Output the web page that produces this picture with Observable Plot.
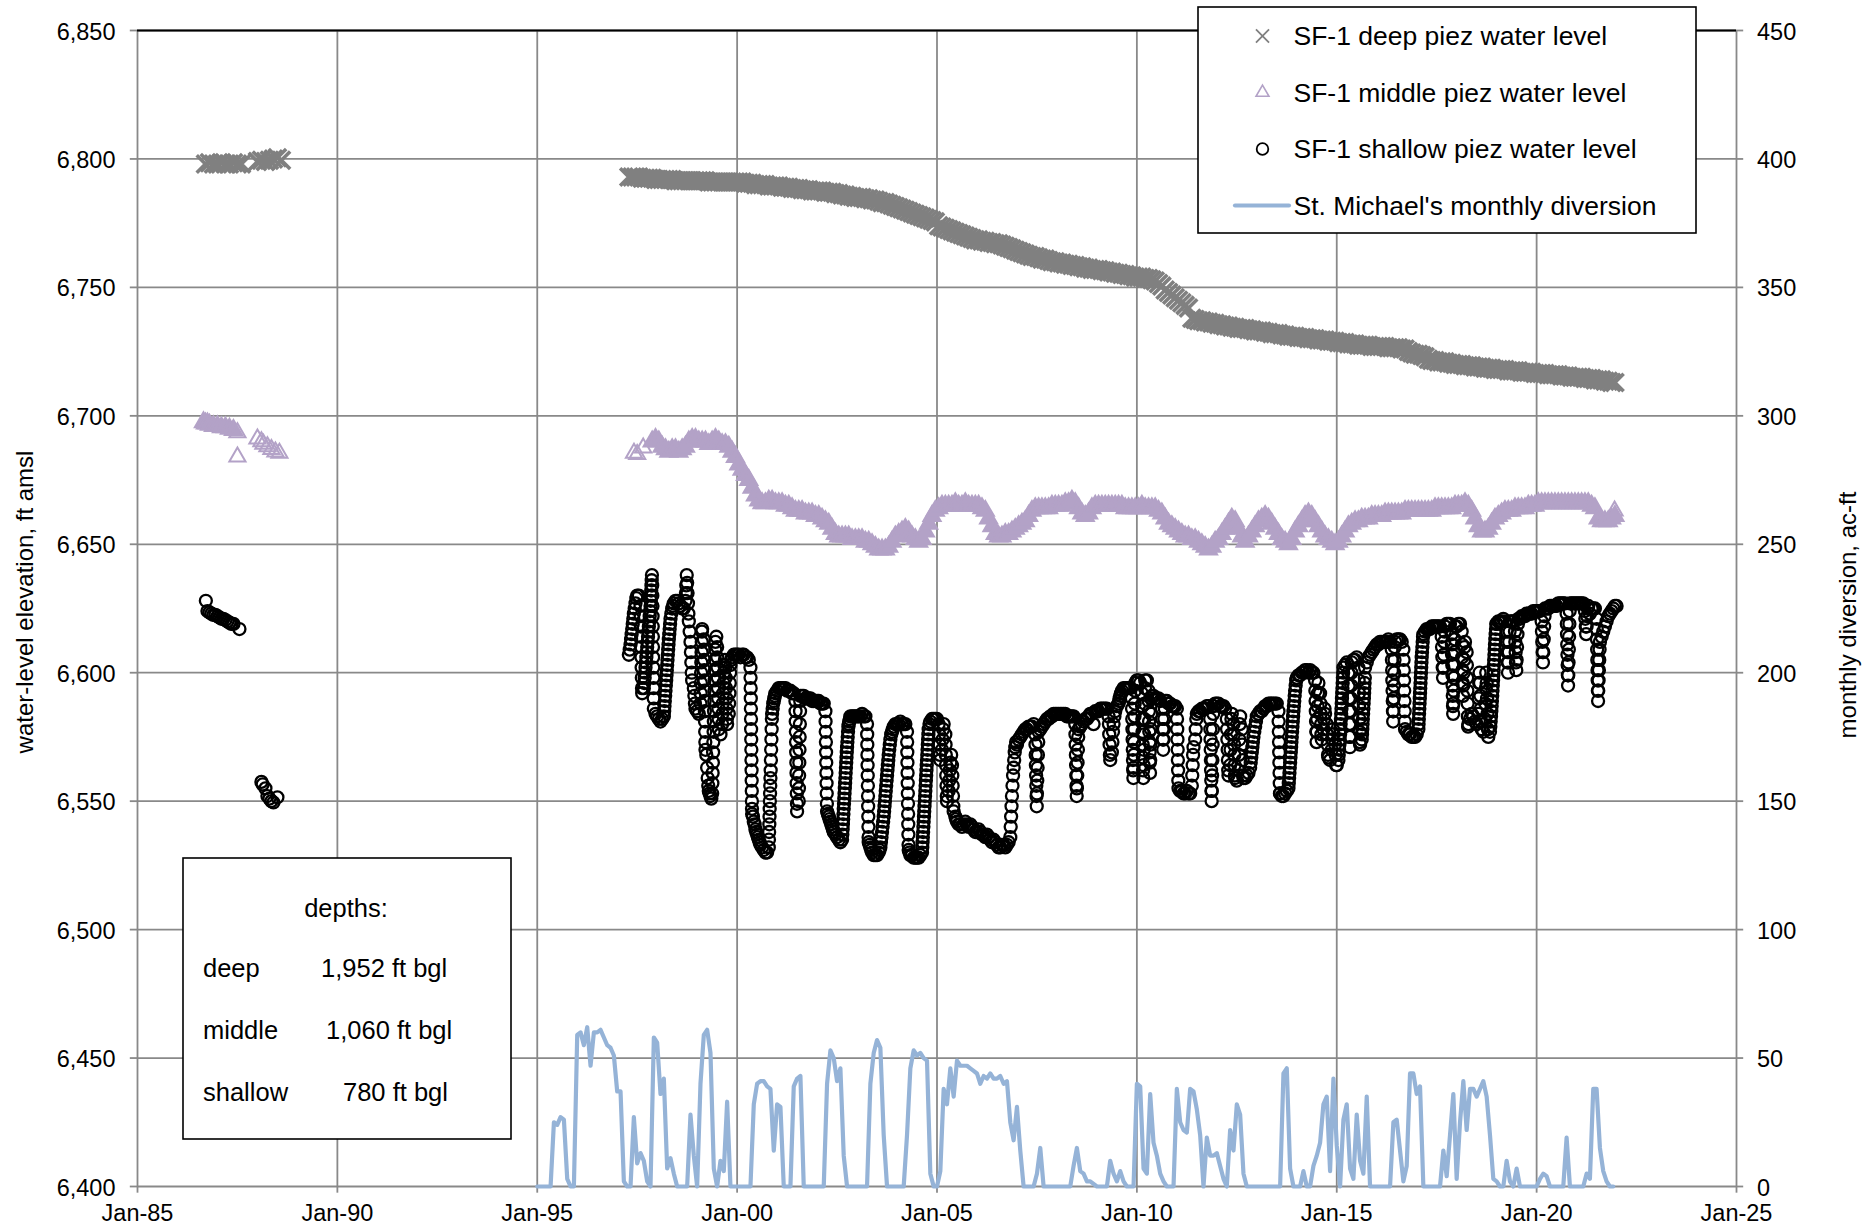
<!DOCTYPE html>
<html><head><meta charset="utf-8">
<script src="https://cdn.jsdelivr.net/npm/d3@7"></script>
<script src="https://cdn.jsdelivr.net/npm/@observablehq/plot@0.6"></script>
<style>html,body{margin:0;padding:0;background:#fff;overflow:hidden;}</style>
</head><body><div id="chart"></div>
<script>
// ---------- axis ticks ----------
const xTicks = [1985, 1990, 1995, 2000, 2005, 2010, 2015, 2020, 2025];
const xTickLabels = ["Jan-85","Jan-90","Jan-95","Jan-00","Jan-05","Jan-10","Jan-15","Jan-20","Jan-25"];
const yTicks = [6400, 6450, 6500, 6550, 6600, 6650, 6700, 6750, 6800, 6850];
const y2Ticks = [0, 50, 100, 150, 200, 250, 300, 350, 400, 450];

// ---------- legend / depth box text ----------
const seriesNames = ["SF-1 deep piez water level", "SF-1 middle piez water level", "SF-1 shallow piez water level", "St. Michael's monthly diversion"];
const depthRows = [["deep", "1,952 ft bgl"], ["middle", "1,060 ft bgl"], ["shallow", "780 ft bgl"]];

// ---------- early / isolated readings [decimal year, ft amsl] ----------
const deepEarly = [[1986.7,6798],[1986.8,6798.5],[1986.9,6798],[1987.0,6798],[1987.1,6798.5],[1987.2,6798],[1987.3,6798],[1987.4,6798.5],[1987.5,6798],[1987.6,6798],[1988.0,6799],[1988.1,6799.5],[1988.2,6799],[1988.3,6799.5],[1988.4,6800],[1988.5,6800.5],[1988.6,6799.5]];
const middleEarly = [[1986.65,6697.5],[1986.7,6697],[1986.75,6697],[1986.8,6696.5],[1986.9,6696],[1987.0,6696],[1987.1,6695.5],[1987.2,6695.5],[1987.3,6695],[1987.4,6694.5]];
const middleSparse = [[1987.5,6693.5],[1987.5,6684],[1988.0,6691],[1988.1,6690],[1988.15,6689],[1988.25,6688],[1988.35,6687],[1988.45,6686],[1988.55,6685.5],[1997.42,6685.5],[1997.5,6685],[1997.65,6687.5],[2021.95,6663]];
const shallowEarly = [[1986.71,6628],[1986.75,6624],[1986.8,6623.5],[1986.85,6623],[1986.9,6622.5],[1986.95,6622.5],[1987.0,6622],[1987.05,6621.5],[1987.1,6621],[1987.15,6621],[1987.2,6620.5],[1987.25,6620],[1987.3,6619.5],[1987.35,6619],[1987.4,6619],[1987.55,6617],[1988.1,6557.5],[1988.13,6556.5],[1988.2,6555],[1988.25,6552],[1988.3,6551],[1988.35,6550],[1988.4,6549.5],[1988.5,6551.5]];

// ---------- deep piezometer, monthly (Jan..Dec) ----------
const deep1997 = [null,null,null,6793,6793,6793,6793,6792.5,6792.5,6792.5,6792.5,6792];
const deep1998 = [6792,6792,6792,6792,6792,6791.5,6791.5,6791.5,6791.5,6791.5,6791.5,6791.5];
const deep1999 = [6791.5,6791.5,6791.5,6791,6791,6791,6791,6791,6791,6791,6791,6791];
const deep2000 = [6791,6791,6790.5,6790.5,6790.5,6790,6790,6790,6790,6789.5,6789.5,6789.5];
const deep2001 = [6789.5,6789,6789,6789,6788.5,6788.5,6788.5,6788,6788,6788,6787.5,6787.5];
const deep2002 = [6787.5,6787.5,6787,6787,6787,6786.5,6786.5,6786,6786,6785.5,6785.5,6785];
const deep2003 = [6785,6785,6784.5,6784.5,6784,6784,6783.5,6783,6783,6782.5,6782,6781.5];
const deep2004 = [6781,6780.5,6780,6779.5,6779,6778.5,6778,6777.5,6777,6776.5,6776,6775.5];
const deep2005 = [6774,6773.5,6773,6772.5,6772,6771.5,6771,6770.5,6770,6769.5,6769,6768.5];
const deep2006 = [6768.5,6768,6768,6767.5,6767.5,6767,6767,6766.5,6766,6765.5,6765,6764.5];
const deep2007 = [6764,6763.5,6763,6762.5,6762,6762,6761.5,6761,6761,6760.5,6760,6760];
const deep2008 = [6759.5,6759.5,6759,6759,6758.5,6758.5,6758,6758,6757.5,6757.5,6757,6757];
const deep2009 = [6757,6756.5,6756.5,6756,6756,6755.5,6755.5,6755,6755,6754.5,6754.5,6754];
const deep2010 = [6754,6754,6753.5,6753.5,6753,6752.5,6751.5,6750.5,6749,6748,6747,6746];
const deep2011 = [6745,6744,6743,6742,6738,6737.5,6737,6737,6736.5,6736.5,6736,6736];
const deep2012 = [6735.5,6735.5,6735,6735,6734.5,6734.5,6734,6734,6734,6733.5,6733.5,6733];
const deep2013 = [6733,6733,6732.5,6732.5,6732,6732,6732,6731.5,6731.5,6731,6731,6731];
const deep2014 = [6730.5,6730.5,6730.5,6730,6730,6730,6729.5,6729.5,6729.5,6729,6729,6729];
const deep2015 = [6728.5,6728.5,6728.5,6728,6728,6728,6727.5,6727.5,6727.5,6727.5,6727,6727];
const deep2016 = [6727,6727,6727,6726.5,6726.5,6726.5,6726.5,6726,6726,6725,6724.5,6724];
const deep2017 = [6724,6723.5,6723,6722,6721.5,6721.5,6721,6721,6721,6720.5,6720.5,6720];
const deep2018 = [6720,6720,6719.5,6719.5,6719.5,6719,6719,6719,6718.5,6718.5,6718.5,6718];
const deep2019 = [6718,6718,6718,6717.5,6717.5,6717.5,6717.5,6717,6717,6717,6717,6716.5];
const deep2020 = [6716.5,6716.5,6716.5,6716,6716,6716,6716,6715.5,6715.5,6715.5,6715,6715];
const deep2021 = [6715,6715,6714.5,6714.5,6714.5,6714,6714,6714,6713.5,6713.5,6713,6713];

// ---------- middle piezometer, monthly ----------
const mid1997 = [null,null,null,null,null,null,null,null,null,null,6690,6691];
const mid1998 = [6690,6688,6687,6686,6687,6687,6686,6687,6688,6690,6691,6691];
const mid1999 = [6690,6690,6690,6689,6690,6691,6690,6689,6689,6688,6686,6684];
const mid2000 = [6681,6679,6677,6675,6672,6669,6667,6666,6666,6667,6667,6666];
const mid2001 = [6666,6666,6665,6665,6664,6663,6663,6663,6662,6662,6662,6661];
const mid2002 = [6661,6660,6659,6658,6656,6654,6653,6653,6653,6653,6652,6652];
const mid2003 = [6652,6652,6651,6651,6650,6649,6648,6648,6648,6649,6651,6653];
const mid2004 = [6654,6655,6656,6655,6653,6652,6651,6652,6655,6658,6661,6663];
const mid2005 = [6664,6665,6665,6665,6665,6666,6665,6665,6666,6665,6665,6665];
const mid2006 = [6665,6664,6663,6660,6657,6654,6653,6653,6654,6654,6655,6656];
const mid2007 = [6657,6658,6659,6661,6663,6664,6664,6664,6664,6664,6665,6665];
const mid2008 = [6665,6665,6666,6666,6667,6666,6664,6662,6661,6662,6664,6665];
const mid2009 = [6665,6665,6665,6665,6665,6665,6665,6665,6664,6664,6664,6664];
const mid2010 = [6664,6665,6664,6664,6664,6664,6663,6662,6660,6658,6657,6656];
const mid2011 = [6655,6654,6653,6653,6652,6652,6651,6650,6649,6648,6649,6651];
const mid2012 = [6652,6654,6656,6658,6660,6659,6656,6653,6651,6653,6655,6657];
const mid2013 = [6659,6660,6661,6660,6658,6656,6654,6652,6651,6650,6652,6655];
const mid2014 = [6657,6659,6661,6662,6661,6659,6657,6655,6653,6652,6651,6650];
const mid2015 = [6651,6653,6655,6657,6658,6659,6659,6660,6660,6660,6661,6661];
const mid2016 = [6661,6661,6662,6662,6662,6662,6662,6662,6663,6663,6663,6663];
const mid2017 = [6663,6663,6663,6663,6663,6664,6664,6664,6664,6664,6664,6665];
const mid2018 = [6665,6665,6666,6665,6663,6660,6657,6655,6655,6656,6658,6660];
const mid2019 = [6661,6662,6663,6663,6663,6664,6664,6664,6664,6665,6665,6665];
const mid2020 = [6666,6666,6666,6666,6666,6666,6666,6666,6666,6666,6666,6666];
const mid2021 = [6666,6666,6666,6666,6665,6664,6660,6659,6659,6659,6660,6661];

// ---------- shallow piezometer, half-month slots (arrays = several readings in that slot) ----------
const shallow1997 = [null,null,null,null,null,null,null,[6607,6609],[6611,6613,6615],[6617,6619,6621],[6623,6625],[6627,6629],6630,6630,[6626,6622,6618,6614,6610,6606,6602,6598,6594],6592,[6594,6596,6598,6600],[6602,6604,6606,6608],[6610,6612,6614,6616],[6618,6620,6622,6624],[6626,6628,6630,6632,6634,6636,6638],[6634,6630,6626,6622,6618,6614,6610,6606,6602,6598,6594,6590],6586,6584];
const shallow1998 = [6583,6582,6581,6582,[6583,6585,6587,6589,6591],[6593,6595,6597,6599,6601],[6603,6605,6607,6609,6611],[6613,6615,6617,6619],[6621,6623],[6625,6626],6627,6628,6628,6627,6626,6625,6625,[6628,6631,6634,6638],[6635,6631,6627,6623],[6620,6616],[6612,6608,6604,6600],6597,[6594,6591,6588],6586];
const shallow1999 = [6585,6584,[6588,6592,6596,6600,6604,6608,6612,6616],6617,[6613,6609,6605,6601,6597,6593,6589,6585,6581,6577,6573],[6570,6568],[6563,6559,6556],[6554,6553],[6552,6551],[6553,6557,6561,6565,6569,6573,6577],[6581,6585,6589,6593,6597,6601,6605,6609],[6612,6614],[6610,6606,6602,6598,6594,6590,6586,6582],6578,6576,[6580,6584,6588,6592,6596],[6600,6603,6605],[6602,6598,6594,6590,6586,6582],6580,[6584,6588,6592,6596,6600],[6603,6605],6606,6607,6607];
const shallow2000 = [6607,6607,6606,6607,6607,6606,6606,6605,[6602,6598,6594,6590,6586,6582,6578,6574,6570,6566,6562,6558,6554,6550,6547],[6545,6544],[6542,6541],[6539,6538],[6537,6536],[6535,6534],6533,6532,6531,6530,6530,[6532,6535,6538,6541,6544,6547,6550,6553,6556],[6559,6562,6566,6570,6574,6578,6582],[6584,6586,6588],[6589,6590,6591],6592];
const shallow2001 = [6593,6594,6594,6594,6594,6594,6593,6593,6593,6592,6592,[6589,6585,6581,6577,6573,6569,6565,6561,6557,6553,6549],6546,[6550,6555,6560,6565,6570,6575,6580,6585,6589],6591,6591,6591,6590,6590,6590,6590,6589,6589,6589];
const shallow2002 = [6589,6589,6588,6588,6588,[6585,6581,6577,6573,6569,6565,6561,6557,6553,6549],[6546,6545],[6544,6543],[6542,6541],[6540,6539],6538,6537,6536,6535,6534,[6535,6537,6539,6541,6543,6545],[6547,6549,6551,6553,6555,6557],[6559,6561,6563,6565,6567,6569],[6571,6573,6575,6577,6579],[6580,6581,6582],6583,6583,6583,6583];
const shallow2003 = [6583,6583,6583,6584,6583,6583,[6580,6576,6572,6568,6564,6560,6556,6552,6548,6544,6540,6536],[6534,6533],[6532,6531],6530,6529,6529,6529,[6530,6531],[6532,6534,6536],[6538,6540,6542],[6544,6546,6548,6550],[6552,6554,6556,6558],[6560,6562,6564,6566],[6568,6570,6572],[6574,6576],[6577,6578],6579,6580];
const shallow2004 = [6580,6580,6581,6580,6580,6580,[6577,6573,6569,6565,6561,6557,6553,6549,6545,6541,6537,6533],[6531,6530],6529,6529,6528,6528,6528,6528,6529,[6530,6532,6534,6536,6538,6540],[6542,6544,6546,6548,6550,6552],[6554,6556,6558,6560,6562,6564],[6566,6568,6570,6572,6574,6576],[6578,6580],6581,6582,6582,6582];
const shallow2005 = [6582,[6580,6576,6572,6568],6566,[6570,6574,6578],6580,[6576,6572,6568,6564,6560,6556,6552],6550,[6554,6558,6562],[6565,6568],[6564,6560,6556,6552,6548],6546,[6544,6543],6542,6541,6541,6540,6541,6542,6541,6540,6541,6540,6539,6538];
const shallow2006 = [6538,6539,6538,6537,6537,6536,6537,6536,6535,6534,6535,6534,6533,6532,6532,6533,6533,6532,6533,6534,[6536,6540,6544,6548],[6552,6556,6560],[6563,6566,6569],[6571,6573]];
const shallow2007 = [6572,6574,6575,6576,6577,6578,6578,6579,6579,6579,6580,[6576,6572,6568,6564,6560,6556,6552,6548],[6553,6558,6563,6568,6573],6577,6578,6579,6580,6581,6582,6582,6583,6583,6584,6584];
const shallow2008 = [6584,6584,6584,6584,6584,6584,6583,6583,6583,6583,6583,[6580,6576,6572,6568,6564,6560,6556,6552],[6555,6560,6565,6570,6575],6578,6579,6580,6581,6582,6582,6583,6584,6584,6580,6585];
const shallow2009 = [6585,6585,6586,6586,6586,6586,6586,[6583,6580,6576,6572,6568],6566,[6569,6573,6577],[6580,6583],6585,6587,[6588,6589,6590],[6591,6592],6593,6594,6594,6594,6594,6594,[6590,6586,6582,6578,6574,6570,6566,6562,6559],[6563,6568,6573,6578,6583,6588,6593],6596];
const shallow2010 = [6597,6597,6596,[6592,6587,6582,6577,6572,6567,6562,6559],[6564,6570,6576,6582,6588,6594],6597,6597,[6593,6589,6585,6581,6577,6573,6569,6565,6561],[6566,6572,6578,6584,6590],6591,6591,6590,6590,6590,6589,[6586,6582,6578,6574,6570],[6574,6578,6582,6586],6589,6589,6588,6588,6587,6587,6587];
const shallow2011 = [[6586,6582,6578,6574,6570,6566,6562,6558],6555,6554,6554,6553,6553,6554,6553,6553,[6556,6560,6564,6568],6571,[6574,6578,6582],6584,6585,6585,6586,6586,6586,6587,6587,[6582,6578,6574,6570,6566,6562,6558,6554,6550],[6554,6560,6566,6572,6578,6584],6587,6588];
const shallow2012 = [6588,6588,6587,6587,6587,6586,[6582,6578,6574,6570,6566,6562],6560,[6564,6570,6576,6582],6584,[6580,6576,6572,6568,6564,6560],6559,6558,[6562,6568,6574,6580],6583,[6578,6572,6566,6560],6559,6559,6560,6561,[6563,6565,6567],[6569,6571,6573],[6575,6577],[6579,6581]];
const shallow2013 = [6583,6584,6585,6585,6586,6587,6587,6588,6588,6588,6588,6588,6588,[6585,6581,6577,6573,6569,6565,6561,6557,6553],6553,6552,6552,6553,6554,[6555,6557,6559,6561,6563],[6565,6567,6569,6571,6573],[6575,6577,6579,6581,6583],[6585,6587,6589,6591],[6593,6595,6597]];
const shallow2014 = [6598,6599,6599,6600,6600,6601,6601,6600,6601,6600,6600,[6597,6593,6589,6585,6581,6577,6573],[6577,6582,6587,6592],6596,[6592,6588,6584,6580,6576],6574,[6578,6582,6586],6584,[6580,6576,6572,6568],6567,6566,[6570,6574,6578],6576,[6572,6568,6564]];
const shallow2015 = [6564,[6566,6568,6570,6572,6574],[6576,6578,6580,6582,6584,6586],[6588,6590,6592,6594,6596,6598,6600],6602,6603,6604,[6600,6595,6590,6585,6580,6575,6571],[6575,6580,6585,6590,6595,6600],6604,6605,6605,6606,[6602,6597,6592,6587,6582,6577,6573],6572,[6574,6576,6578,6580,6582,6584],[6586,6588,6590,6592,6594,6596,6598],6602,6604,6606,6607,6608,6609,6610];
const shallow2016 = [6611,6611,6612,6612,6612,6612,6612,6613,6612,[6609,6605,6601,6597,6593,6589,6585,6581],[6585,6590,6595,6600,6605,6610],6612,6613,6613,6613,6612,[6609,6605,6601,6597,6593,6589,6585,6581],6578,6577,6576,6576,6575,6575,6575];
const shallow2017 = [6576,[6578,6580,6582,6584,6586,6588,6590],[6592,6594,6596,6598,6600,6602,6604],[6606,6608,6610,6612,6614],6615,6616,6617,6617,6617,6618,6618,6618,6618,6618,6618,[6614,6610,6606,6602,6598],[6602,6607,6612,6616],6618,6619,6619,6619,[6615,6611,6607,6603,6599,6595,6591,6587,6584],[6588,6593,6598,6603,6608,6613],6618];
const shallow2018 = [6618,6619,6619,[6616,6611,6606,6601,6596,6591],[6595,6600,6605,6610],6612,[6608,6603,6598,6593,6588,6583,6579],6580,6582,6584,6583,6581,6580,[6584,6590,6596,6600],[6596,6591,6586,6581],6578,6577,[6582,6588,6594,6600],[6596,6590,6584,6578],6575,[6577,6579,6581,6583,6585],[6587,6589,6591,6593,6595,6597],[6599,6601,6603,6605,6607,6609],[6611,6613,6615,6617,6619]];
const shallow2019 = [6619,6620,6620,6620,6621,6620,[6616,6612,6608,6604,6600],[6604,6608,6612,6616],6620,6620,6620,[6616,6612,6608,6604,6601],[6605,6610,6615,6619],6621,6621,6622,6622,6622,6623,6623,6623,6623,6624,6624];
const shallow2020 = [6624,6624,6624,[6620,6616,6612,6608,6604],[6608,6613,6618,6622],6625,6625,6625,6626,6626,6626,6626,6626,6627,6627,6627,6627,6627,[6623,6619,6615,6611,6607,6603,6599,6595],[6599,6604,6609,6614,6619,6624],6627,6627,6627,6627];
const shallow2021 = [6627,6627,6627,6627,6627,[6624,6621,6618,6615],[6618,6622,6625],6626,6623,6625,6625,6625,[6621,6617,6613,6609,6605,6601,6597,6593,6589],[6593,6597,6601,6605,6609],6612,6614,6616,6618,6620,6622,6623,6624,6625,6626];
const shallow2022 = [6626];

// ---------- St. Michael's monthly diversion, ac-ft (Jan..Dec) ----------
const div1995 = [0,0,0,0,0,25,24,27,26,3,0,0];
const div1996 = [59,60,55,62,47,60,60,61,58,55,54,51];
const div1997 = [37,37,2,0,0,27,9,13,10,2,0,58];
const div1998 = [56,36,42,7,11,5,0,0,0,0,28,12];
const div1999 = [0,40,59,61,52,7,0,10,6,33,0,0];
const div2000 = [0,0,0,0,0,32,40,41,41,39,38,14];
const div2001 = [32,31,0,0,0,39,42,43,0,0,0,0];
const div2002 = [0,0,0,40,53,50,41,46,12,0,0,0];
const div2003 = [0,0,0,0,40,52,57,54,20,0,0,0];
const div2004 = [0,0,0,20,46,53,51,52,50,49,5,0];
const div2005 = [0,6,38,32,46,35,49,47,47,47,46,45];
const div2006 = [44,40,43,42,44,42,42,43,40,41,25,18];
const div2007 = [31,14,0,0,0,0,5,15,0,0,0,0];
const div2008 = [0,0,0,0,0,8,15,6,5,2,2,1];
const div2009 = [0,0,0,0,10,5,2,6,2,0,0,0];
const div2010 = [40,39,7,5,36,17,12,5,2,0,0,0];
const div2011 = [38,25,22,21,38,37,30,20,0,19,12,12];
const div2012 = [13,8,3,0,22,14,32,28,5,0,0,0];
const div2013 = [0,0,0,0,0,0,0,0,44,46,7,0];
const div2014 = [0,0,6,0,0,8,12,17,32,35,6,42];
const div2015 = [16,0,26,32,7,3,28,10,5,35,0,0];
const div2016 = [0,0,0,0,0,25,26,14,2,8,44,44];
const div2017 = [36,39,0,0,0,0,0,0,14,4,20,36];
const div2018 = [3,25,41,22,38,38,35,38,41,35,20,3];
const div2019 = [2,0,0,10,2,0,7,0,0,0,0,0];
const div2020 = [0,3,5,4,0,0,0,0,0,19,0,0];
const div2021 = [0,0,0,5,3,38,38,15,6,2,0,0];

// ---------- assemble tables ----------
const deepYears = [[1997,deep1997],[1998,deep1998],[1999,deep1999],[2000,deep2000],[2001,deep2001],[2002,deep2002],[2003,deep2003],[2004,deep2004],[2005,deep2005],[2006,deep2006],[2007,deep2007],[2008,deep2008],[2009,deep2009],[2010,deep2010],[2011,deep2011],[2012,deep2012],[2013,deep2013],[2014,deep2014],[2015,deep2015],[2016,deep2016],[2017,deep2017],[2018,deep2018],[2019,deep2019],[2020,deep2020],[2021,deep2021]];
const midYears = [[1997,mid1997],[1998,mid1998],[1999,mid1999],[2000,mid2000],[2001,mid2001],[2002,mid2002],[2003,mid2003],[2004,mid2004],[2005,mid2005],[2006,mid2006],[2007,mid2007],[2008,mid2008],[2009,mid2009],[2010,mid2010],[2011,mid2011],[2012,mid2012],[2013,mid2013],[2014,mid2014],[2015,mid2015],[2016,mid2016],[2017,mid2017],[2018,mid2018],[2019,mid2019],[2020,mid2020],[2021,mid2021]];
const shallowYears = [[1997,shallow1997],[1998,shallow1998],[1999,shallow1999],[2000,shallow2000],[2001,shallow2001],[2002,shallow2002],[2003,shallow2003],[2004,shallow2004],[2005,shallow2005],[2006,shallow2006],[2007,shallow2007],[2008,shallow2008],[2009,shallow2009],[2010,shallow2010],[2011,shallow2011],[2012,shallow2012],[2013,shallow2013],[2014,shallow2014],[2015,shallow2015],[2016,shallow2016],[2017,shallow2017],[2018,shallow2018],[2019,shallow2019],[2020,shallow2020],[2021,shallow2021],[2022,shallow2022]];
const divYears = [[1995,div1995],[1996,div1996],[1997,div1997],[1998,div1998],[1999,div1999],[2000,div2000],[2001,div2001],[2002,div2002],[2003,div2003],[2004,div2004],[2005,div2005],[2006,div2006],[2007,div2007],[2008,div2008],[2009,div2009],[2010,div2010],[2011,div2011],[2012,div2012],[2013,div2013],[2014,div2014],[2015,div2015],[2016,div2016],[2017,div2017],[2018,div2018],[2019,div2019],[2020,div2020],[2021,div2021]];

function monthlyTable(years, early) {
  const out = early.map(([t, v]) => ({t, v}));
  for (const [Y, arr] of years) arr.forEach((v, i) => { if (v != null) out.push({t: Y + (i + 0.5) / 12, v}); });
  return out;
}
const deepData = monthlyTable(deepYears, deepEarly);
const midData = monthlyTable(midYears, middleEarly);
const midSparseData = middleSparse.map(([t, v]) => ({t, v}));
const shallowData = shallowEarly.map(([t, v]) => ({t, v}));
for (const [Y, arr] of shallowYears) arr.forEach((e, i) => {
  if (e == null) return;
  const vals = Array.isArray(e) ? e : [e];
  vals.forEach((v, k) => shallowData.push({t: Y + (i + k / vals.length) / 24, v}));
});
const divData = [];
for (const [Y, arr] of divYears) arr.forEach((v, i) => divData.push({t: Y + i / 12, v}));

// ---------- plot ----------
const GRID = "#898989";
const LAV = "#b3a2c7";
const FONT = "'Liberation Sans', Arial, Helvetica, sans-serif";
const fmtComma = d3.format(",");
const base = 6400; // right axis 0 sits on left axis 6,400 (both span 450)

const chart = Plot.plot({
  width: 1865, height: 1228,
  marginLeft: 137, marginRight: 129, marginTop: 30, marginBottom: 42,
  style: {fontFamily: FONT, background: "white", color: "black"},
  x: {domain: [1985, 2025], axis: null},
  y: {domain: [6400, 6850], axis: null},
  marks: [
    Plot.ruleX(xTicks, {stroke: GRID, strokeWidth: 1.8}),
    Plot.ruleY(yTicks, {stroke: GRID, strokeWidth: 1.8}),
    Plot.ruleY([6850], {stroke: "black", strokeWidth: 2.2}),
    Plot.ruleY(yTicks, {x1: 1985 - 0.18, x2: 1985, stroke: GRID, strokeWidth: 1.8}),
    Plot.ruleY(yTicks, {x1: 2025, x2: 2025 + 0.18, stroke: GRID, strokeWidth: 1.8}),
    Plot.ruleX(xTicks, {y1: 6400, y2: 6400 - 2.6, stroke: GRID, strokeWidth: 1.8}),
    Plot.text(yTicks, {x: 1985, y: d => d, text: d => fmtComma(d), dx: -22, dy: 1.5, textAnchor: "end", fontSize: 23.5, fill: "black"}),
    Plot.text(y2Ticks, {x: 2025, y: d => base + d, text: d => String(d), dx: 20.5, dy: 1.5, textAnchor: "start", fontSize: 23.5, fill: "black"}),
    Plot.text(xTicks, {x: d => d, y: 6400, text: (d, i) => xTickLabels[i], dy: 27, fontSize: 23.5, fill: "black"}),
    Plot.line(divData, {x: "t", y: d => base + d.v, stroke: "#95b3d7", strokeWidth: 4.2, strokeLinejoin: "round", strokeLinecap: "round"}),
    Plot.dot(deepData, {x: "t", y: "v", symbol: d3.symbolTimes, r: 8, stroke: "#808080", fill: "none", strokeWidth: 3.6}),
    Plot.dot(midData, {x: "t", y: "v", symbol: d3.symbolTriangle, r: 6.4, stroke: LAV, fill: LAV, strokeWidth: 2}),
    Plot.dot(midSparseData, {x: "t", y: "v", symbol: d3.symbolTriangle, r: 6, stroke: LAV, fill: "none", strokeWidth: 2}),
    // shallow: white faces first, then all outlines on top (dense readings merge into solid black)
    Plot.dot(shallowData, {x: "t", y: "v", r: 6, fill: "white", stroke: "none"}),
    Plot.dot(shallowData, {x: "t", y: "v", r: 6, stroke: "black", fill: "none", strokeWidth: 2.3})
  ]
});
document.getElementById("chart").appendChild(chart);

// ---------- overlays: axis titles, legend, depth box ----------
const svg = d3.select(chart);
const g = svg.append("g").attr("font-family", FONT).attr("fill", "black").attr("text-anchor", "start");
g.append("text").attr("transform", "translate(25,602) rotate(-90)").attr("text-anchor", "middle")
  .attr("dy", "0.35em").attr("font-size", 24).text("water-level elevation, ft amsl");
g.append("text").attr("transform", "translate(1848,615) rotate(-90)").attr("text-anchor", "middle")
  .attr("dy", "0.35em").attr("font-size", 24).text("monthly diversion, ac-ft");

// legend
const lg = g.append("g");
lg.append("rect").attr("x", 1198).attr("y", 7).attr("width", 498).attr("height", 226)
  .attr("fill", "white").attr("stroke", "black").attr("stroke-width", 1.6);
const rowsY = [36, 92.5, 149, 205.5];
const symX = 1262.5;
lg.append("path").attr("transform", `translate(${symX},${rowsY[0]})`)
  .attr("d", d3.symbol(d3.symbolTimes, Math.PI * 36)()).attr("stroke", "#808080").attr("stroke-width", 1.8).attr("fill", "none");
lg.append("path").attr("transform", `translate(${symX},${rowsY[1]})`)
  .attr("d", d3.symbol(d3.symbolTriangle, Math.PI * 4.8 * 4.8)()).attr("stroke", LAV).attr("stroke-width", 1.6).attr("fill", "none");
lg.append("circle").attr("cx", symX).attr("cy", rowsY[2]).attr("r", 5.8)
  .attr("stroke", "black").attr("stroke-width", 1.8).attr("fill", "white");
lg.append("line").attr("x1", 1235).attr("x2", 1289).attr("y1", rowsY[3]).attr("y2", rowsY[3])
  .attr("stroke", "#95b3d7").attr("stroke-width", 4.2).attr("stroke-linecap", "round");
seriesNames.forEach((s, i) => {
  lg.append("text").attr("x", 1293.5).attr("y", rowsY[i]).attr("dy", "0.35em")
    .attr("text-anchor", "start").attr("font-size", 26.5).text(s);
});

// depth box
const db = g.append("g");
db.append("rect").attr("x", 183).attr("y", 858).attr("width", 328).attr("height", 281)
  .attr("fill", "white").attr("stroke", "black").attr("stroke-width", 1.6);
db.append("text").attr("x", 346).attr("y", 917).attr("text-anchor", "middle").attr("font-size", 25.5).text("depths:");
const valX = [321, 326, 343];
const rowBase = [977, 1038.5, 1100.5];
depthRows.forEach(([a, b], i) => {
  db.append("text").attr("x", 203).attr("y", rowBase[i]).attr("text-anchor", "start").attr("font-size", 25.5).text(a);
  db.append("text").attr("x", valX[i]).attr("y", rowBase[i]).attr("text-anchor", "start").attr("font-size", 25.5).text(b);
});
</script>
</body></html>
